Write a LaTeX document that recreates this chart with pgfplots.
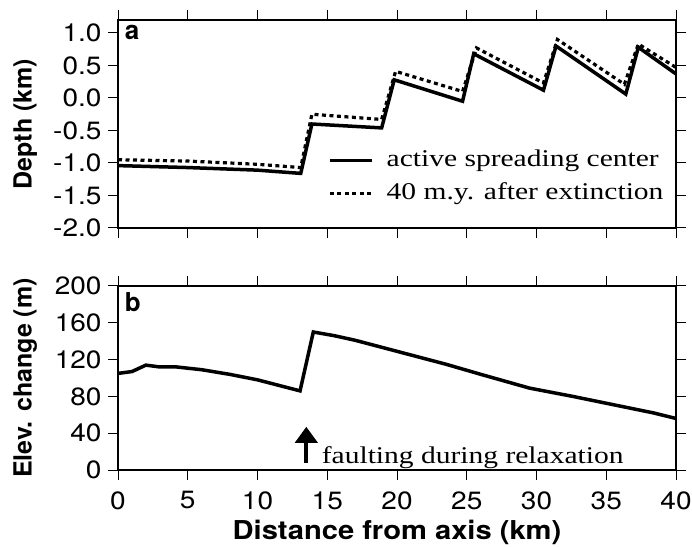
\documentclass[border=0pt]{standalone}
\usepackage{fontspec}
% the reference lettering is a little wide, so the fonts are stretched sideways
\setmainfont{TeX Gyre Heros}[FakeStretch=1.12]
\newfontfamily\plainsans{TeX Gyre Heros}
\newfontfamily\ser{Liberation Serif}[FakeStretch=1.23]
\usepackage{pgfplots}
\pgfplotsset{compat=1.18}
\usetikzlibrary{arrows.meta}

\pgfplotsset{
  panel/.style={
    scale only axis, width=558pt,
    xmin=0, xmax=40, xtick={0,5,...,40},
    tick align=outside, tick pos=both,
    xticklabel pos=lower, yticklabel pos=left,
    major tick length=10pt,
    every tick/.style={line width=1pt, black},
    axis line style={line width=1.6pt},
    tick label style={font=\fontsize{25}{28}\selectfont},
    xticklabel style={yshift=-8pt},
    yticklabel style={xshift=-3pt},
    /pgf/number format/assume math mode=true,
    every axis y label/.style={at={(axis description cs:-0.188,0.5)}, rotate=90, anchor=north,
      inner sep=0pt, font=\plainsans\bfseries\fontsize{25}{30}\selectfont},
    clip=false,
  },
  solidln/.style={line width=3.5pt, black, line join=miter},
  dotln/.style={line width=3.2pt, black, dash pattern=on 4pt off 3.5pt},
}

\begin{document}
\begin{tikzpicture}
\begin{axis}[panel, at={(118pt,318pt)}, anchor=south west,
  height=208pt, ymin=-2, ymax=1.2, ytick={-2,-1.5,...,1},
  xticklabels={},
  yticklabel style={/pgf/number format/.cd, fixed, fixed zerofill, precision=1},
  ylabel={Depth (km)},
  legend cell align=left,
  legend image code/.code={\draw[#1] (0pt,0pt) -- (42pt,0pt);},
  legend style={draw=none, fill=none, inner sep=0pt,
    at={(axis cs:15.05,-0.774)}, anchor=north west, row sep=9pt,
    nodes={inner sep=0pt, text height=18pt, text depth=6pt, font=\ser\fontsize{24}{28}\selectfont},
    /tikz/every odd column/.append style={column sep=13pt}},
]
\addplot[solidln] coordinates {
(0,-1.04)(5,-1.07)(10,-1.11)(13.1,-1.16)(13.9,-0.40)(18.9,-0.46)(19.8,0.28)(24.7,-0.05)
(25.5,0.68)(30.5,0.12)(31.4,0.80)(36.4,0.06)(37.3,0.78)(40,0.37)};
\addlegendentry{active spreading center}
\addplot[dotln] coordinates {
(0,-0.95)(5,-0.97)(10,-1.02)(13.1,-1.07)(13.9,-0.25)(18.9,-0.33)(19.9,0.41)(24.7,0.10)
(25.7,0.77)(30.5,0.23)(31.5,0.90)(36.3,0.21)(37.3,0.83)(40,0.47)};
\addlegendentry{40 m.y. after extinction}
\node[anchor=north west, inner sep=0pt, font=\plainsans\bfseries\fontsize{26}{30}\selectfont] at (rel axis cs:0.012,0.975) {a};
\end{axis}

\begin{axis}[panel, at={(118pt,76pt)}, anchor=south west,
  height=184pt, ymin=0, ymax=200, ytick={0,40,...,200},
  xlabel={Distance from axis (km)},
  ylabel={Elev. change (m)},
  xlabel style={at={(axis description cs:0.5,-0.272)}, anchor=north, inner sep=0pt,
    font=\bfseries\fontsize{26}{30}\selectfont},
]
\addplot[solidln] coordinates {
(0,105)(1,107)(2,114)(3,112)(4.2,112)(6,109)(8,104)(10,98)(13.05,86)(14,150)
(15.5,146)(17,141)(19,133)(21,125)(23.5,115)(26,104)(29.5,89)(32.6,80)(35.5,71)(38.4,62)(40,56)};
\node[anchor=north west, inner sep=0pt, font=\plainsans\bfseries\fontsize{26}{30}\selectfont] at (rel axis cs:0.012,0.965) {b};
\draw[line width=4pt, -{Triangle[width=22pt,length=16pt]}] (axis cs:13.5,7.6) -- (axis cs:13.5,47);
\node[anchor=base west, inner sep=0pt, font=\ser\fontsize{24}{28}\selectfont] at (axis cs:14.6,7.6) {faulting during relaxation};
\end{axis}
\pgfresetboundingbox
\path[use as bounding box] (0,0) rectangle (692pt,546pt);
\end{tikzpicture}
\end{document}
